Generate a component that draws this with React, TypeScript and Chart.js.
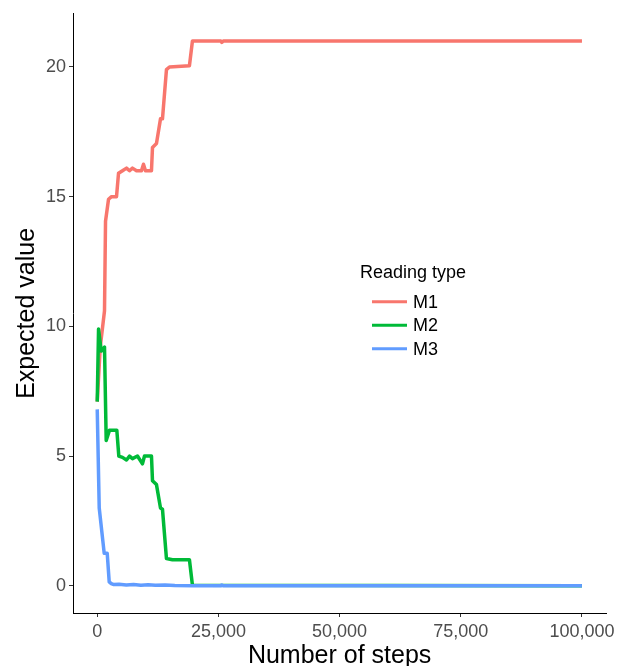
import { useEffect, useRef } from "react";
import { Chart, registerables } from "chart.js";

Chart.register(...registerables);

const SERIES_NAMES = ["M1", "M2", "M3"];
const SERIES_COLORS = ["#F8766D", "#00BA38", "#619CFF"];

const M1_STEPS = [0, 620, 1500, 1710, 2330, 2950, 3980, 4390, 5210, 6040, 6660, 7270, 8100, 9130, 9540, 9950, 11190, 11400, 12220, 13050, 13460, 14280, 14900, 19020, 19640, 25500, 25700, 26000, 100000];
const M1_VALUES = [7.1, 9.2, 10.6, 14.05, 14.9, 15.0, 15.0, 15.9, 16.0, 16.1, 16.0, 16.1, 16.0, 16.0, 16.25, 16.0, 16.0, 16.9, 17.05, 18.0, 18.0, 19.9, 20.0, 20.05, 21.0, 21.0, 20.95, 21.0, 21.0];

const M2_STEPS = [0, 270, 820, 1500, 1850, 2530, 4040, 4450, 5210, 6040, 6660, 7270, 8300, 9330, 9750, 11190, 11400, 12220, 13050, 13460, 14280, 15520, 19020, 19640, 100000];
const M2_VALUES = [7.1, 9.9, 9.05, 9.2, 5.6, 6.0, 6.0, 5.0, 4.95, 4.85, 5.0, 4.9, 5.0, 4.7, 5.0, 5.0, 4.05, 3.9, 3.0, 2.95, 1.05, 1.0, 1.0, 0.02, 0.0];

const M3_STEPS = [0, 410, 1440, 2060, 2470, 2900, 3300, 4500, 6000, 7500, 9000, 10500, 12000, 14000, 16000, 19800, 25500, 25700, 26000, 100000];
const M3_VALUES = [6.8, 3.0, 1.25, 1.25, 0.15, 0.08, 0.05, 0.06, 0.03, 0.05, 0.02, 0.04, 0.02, 0.03, 0.01, 0.0, 0.0, 0.03, 0.0, 0.0];

const X_TICKS = [0, 25000, 50000, 75000, 100000];
const Y_TICKS = [0, 5, 10, 15, 20];
const X_TITLE = "Number of steps";
const Y_TITLE = "Expected value";
const LEGEND_TITLE = "Reading type";

const FONT = "'Liberation Sans', Arial, Helvetica, sans-serif";

function toPoints(steps: number[], values: number[]) {
  return steps.map((s, i) => ({ x: s, y: values[i] }));
}

export default function App() {
  const ref = useRef<HTMLCanvasElement | null>(null);

  useEffect(() => {
    if (!ref.current) return;
    document.body.style.margin = "0";

    const legendPlugin = {
      id: "inlineLegend",
      afterDraw(chart: any) {
        const ctx = chart.ctx as CanvasRenderingContext2D;
        ctx.save();
        ctx.fillStyle = "#000";
        ctx.textAlign = "left";
        ctx.textBaseline = "alphabetic";
        ctx.font = `18px ${FONT}`;
        ctx.fillText(LEGEND_TITLE, 360, 278);
        SERIES_NAMES.forEach((name, i) => {
          const y = 301.7 + i * 23.5;
          ctx.strokeStyle = SERIES_COLORS[i];
          ctx.lineWidth = 3;
          ctx.beginPath();
          ctx.moveTo(372, y);
          ctx.lineTo(407, y);
          ctx.stroke();
          ctx.font = `18px ${FONT}`;
          ctx.textBaseline = "middle";
          ctx.fillText(name, 413, y + 1);
        });
        ctx.restore();
      },
    };

    const series = [
      toPoints(M1_STEPS, M1_VALUES),
      toPoints(M2_STEPS, M2_VALUES),
      toPoints(M3_STEPS, M3_VALUES),
    ];

    const chart = new Chart(ref.current, {
      type: "line",
      data: {
        datasets: series.map((pts, i) => ({
          label: SERIES_NAMES[i],
          data: pts,
          borderColor: SERIES_COLORS[i],
          backgroundColor: SERIES_COLORS[i],
          borderWidth: 3.5,
          pointRadius: 0,
          tension: 0,
          fill: false,
          borderJoinStyle: "round" as const,
          order: 3 - i,
        })),
      },
      options: {
        responsive: false,
        animation: false,
        layout: { padding: { top: 12, right: 11, left: 0, bottom: 0 } },
        plugins: { legend: { display: false }, tooltip: { enabled: false } },
        scales: {
          x: {
            type: "linear",
            min: -5000,
            max: 105000,
            afterBuildTicks: (s: any) => {
              s.ticks = X_TICKS.map((v) => ({ value: v }));
            },
            afterFit: (s: any) => {
              s.height = 53;
            },
            ticks: {
              color: "#4d4d4d",
              font: { family: FONT, size: 18 },
              padding: 4,
              maxRotation: 0,
              autoSkip: false,
              callback: (v: any) => Number(v).toLocaleString("en-US"),
            },
            grid: {
              display: true,
              drawOnChartArea: false,
              drawTicks: true,
              tickLength: 4,
              color: "#333333",
            },
            border: { display: true, color: "#000", width: 1 },
            title: {
              display: true,
              text: X_TITLE,
              color: "#000",
              font: { family: FONT, size: 25, lineHeight: 1 },
              padding: { top: 0, bottom: -3 },
            },
          },
          y: {
            type: "linear",
            min: -1.05,
            max: 22.05,
            afterBuildTicks: (s: any) => {
              s.ticks = Y_TICKS.map((v) => ({ value: v }));
            },
            afterFit: (s: any) => {
              s.width = 73;
            },
            ticks: {
              color: "#4d4d4d",
              font: { family: FONT, size: 18 },
              padding: 3,
              autoSkip: false,
              callback: (v: any) => String(v),
            },
            grid: {
              display: true,
              drawOnChartArea: false,
              drawTicks: true,
              tickLength: 4,
              color: "#333333",
            },
            border: { display: true, color: "#000", width: 1 },
            title: {
              display: true,
              text: Y_TITLE,
              color: "#000",
              font: { family: FONT, size: 25, lineHeight: 1 },
              padding: { top: 15, bottom: 0 },
            },
          },
        },
      },
      plugins: [legendPlugin],
    });

    return () => chart.destroy();
  }, []);

  return (
    <div style={{ position: "absolute", left: 0, top: 0, width: 619, height: 666 }}>
      <canvas ref={ref} width={619} height={666} />
    </div>
  );
}
